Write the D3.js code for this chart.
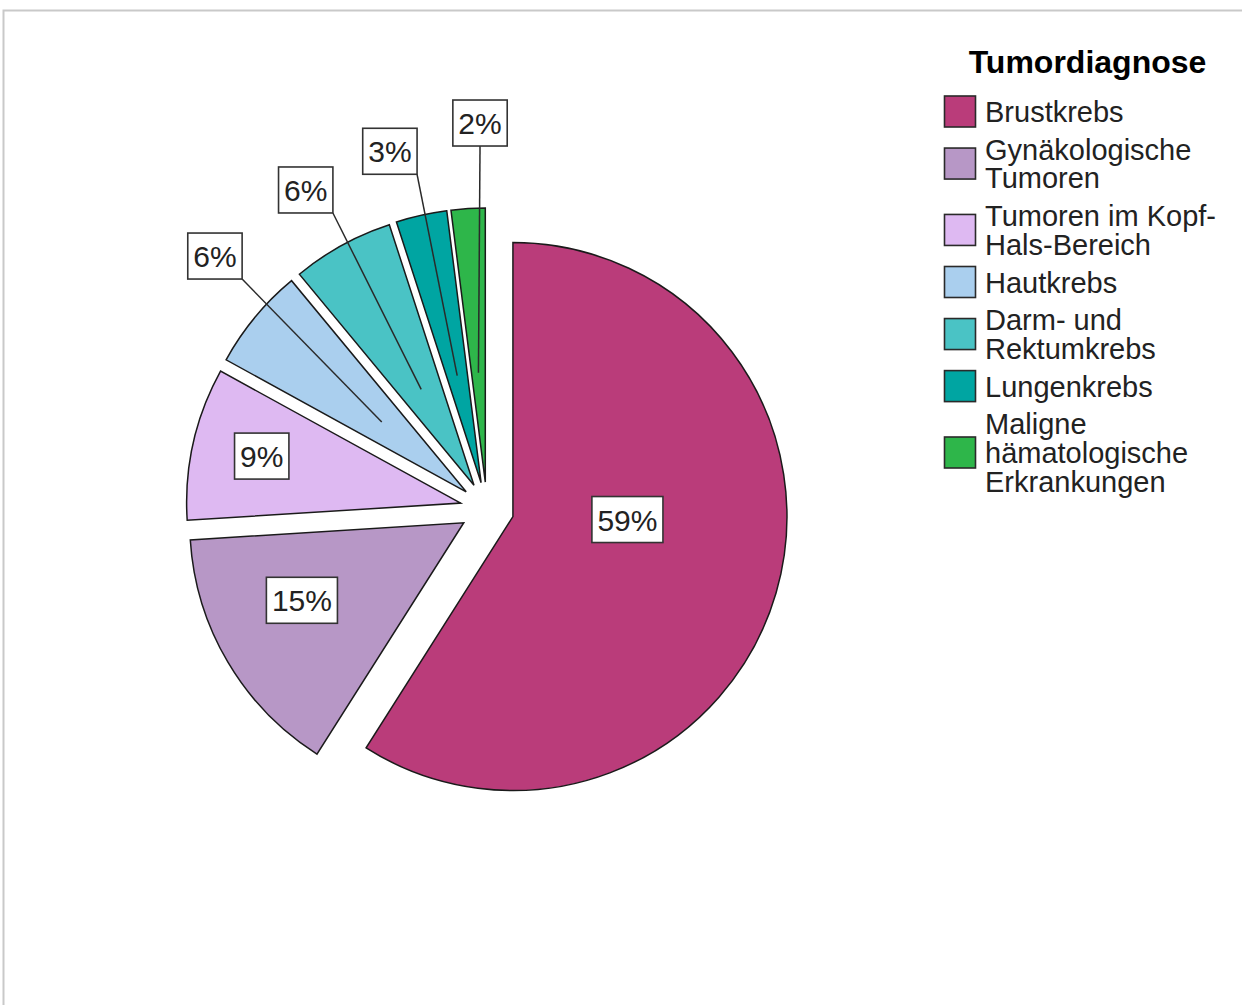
<!DOCTYPE html>
<html>
<head>
<meta charset="utf-8">
<script src="https://cdn.jsdelivr.net/npm/d3@7"></script>
<style>
  html, body { margin: 0; padding: 0; background: #fff; }
  svg { display: block; }
</style>
</head>
<body>
<svg id="chart" width="1242" height="1005"></svg>
<script>
// Diagnosis categories and their share of patients (percent)
const categories = [
  "Brustkrebs",
  "Gynäkologische Tumoren",
  "Tumoren im Kopf-Hals-Bereich",
  "Hautkrebs",
  "Darm- und Rektumkrebs",
  "Lungenkrebs",
  "Maligne hämatologische Erkrankungen"
];
const shares = [59, 15, 9, 6, 6, 3, 2];
const sliceColors = ["#BA3C7A", "#B797C6", "#DEB9F2", "#AACFEE", "#4AC3C5", "#00A5A2", "#2EB64A"];

// Legend wording, wrapped as in the legend box
const legendTitle = "Tumordiagnose";
const legendLines = [
  ["Brustkrebs"],
  ["Gynäkologische", "Tumoren"],
  ["Tumoren im Kopf-", "Hals-Bereich"],
  ["Hautkrebs"],
  ["Darm- und", "Rektumkrebs"],
  ["Lungenkrebs"],
  ["Maligne", "hämatologische", "Erkrankungen"]
];

// Where each percentage label sits: inside the slice (polar from the slice tip)
// or outside with a leader line (polar from the pie centre, box corner at that point)
const labelPlacement = [
  { mode: "inside", angle: 91.5, frac: 0.418 },
  { mode: "inside", angle: 244.4, frac: 0.655 },
  { mode: "inside", angle: 283.3, frac: 0.746 },
  { mode: "outside", angle: 313.2, frac: 1.226, corner: "end" },
  { mode: "outside", angle: 332.5, frac: 1.218, corner: "end" },
  { mode: "outside", angle: 348.2, frac: 1.248, corner: "end" },
  { mode: "outside", angle: 358.9, frac: 1.325, corner: "middle" }
];

const FONT = "'Liberation Sans', Arial, Helvetica, sans-serif";
const svg = d3.select("#chart");

// frame lines along the top and left edge
svg.append("path")
  .attr("d", "M3.5,1005 V10.5 H1242")
  .attr("fill", "none")
  .attr("stroke", "#c9c9c9")
  .attr("stroke-width", 2);

const cx = 487, cy = 509, radius = 274, explode = 27;
const rad = d => d * Math.PI / 180;
const polar = (a, r) => [r * Math.sin(a), -r * Math.cos(a)];

const pie = d3.pie().sort(null).value(d => d.value);
const arcs = pie(categories.map((c, i) => ({ name: c, value: shares[i], color: sliceColors[i], idx: i })));
const arc = d3.arc().innerRadius(0).outerRadius(radius);

const g = svg.append("g").attr("transform", `translate(${cx},${cy})`);

// slices, each pushed out along its mid-angle
arcs.forEach(a => {
  const mid = (a.startAngle + a.endAngle) / 2;
  const [ox, oy] = polar(mid, explode);
  a.tip = [ox, oy];
  a.mid = mid;
  g.append("path")
    .attr("d", arc(a))
    .attr("transform", `translate(${ox},${oy})`)
    .attr("fill", a.data.color)
    .attr("stroke", "#1a1a1a")
    .attr("stroke-width", 1.5)
    .attr("stroke-linejoin", "miter");
});

const fmt = v => `${v}%`;
const labelLayer = g.append("g");
const lineLayer = labelLayer.append("g");
const boxLayer = labelLayer.append("g");

arcs.forEach((a, i) => {
  const p = labelPlacement[i];
  const txt = boxLayer.append("text")
    .attr("font-family", FONT)
    .attr("font-size", 30)
    .attr("fill", "#222")
    .attr("text-anchor", "middle")
    .text(fmt(a.data.value));
  const bb = txt.node().getBBox();
  const w = bb.width + 11, h = 46;
  let bx, by;
  if (p.mode === "inside") {
    const [lx, ly] = polar(rad(p.angle), p.frac * radius);
    bx = a.tip[0] + lx; by = a.tip[1] + ly;
  } else {
    const [ax, ay] = polar(rad(p.angle), p.frac * radius);
    bx = p.corner === "end" ? ax - w / 2 : ax;
    by = ay - h / 2;
    const [ix, iy] = polar(a.mid, 0.4 * radius);
    lineLayer.append("line")
      .attr("x1", a.tip[0] + ix).attr("y1", a.tip[1] + iy)
      .attr("x2", ax).attr("y2", ay)
      .attr("stroke", "#2a2a2a")
      .attr("stroke-width", 1.5);
  }
  boxLayer.insert("rect", () => txt.node())
    .attr("x", bx - w / 2).attr("y", by - h / 2)
    .attr("width", w).attr("height", h)
    .attr("fill", "#fff")
    .attr("stroke", "#333")
    .attr("stroke-width", 1.6);
  txt.attr("x", bx).attr("y", by + 11);
});

// legend
const legend = svg.append("g");
legend.append("text")
  .attr("x", 1087.5).attr("y", 73)
  .attr("text-anchor", "middle")
  .attr("font-family", FONT)
  .attr("font-size", 32)
  .attr("font-weight", "bold")
  .attr("fill", "#000")
  .text(legendTitle);

const lineH = 28.7, itemGap = 9;
let baseline = 122;
legendLines.forEach((lines, i) => {
  const first = baseline;
  lines.forEach((ln, k) => {
    legend.append("text")
      .attr("x", 985).attr("y", baseline + k * lineH)
      .attr("font-family", FONT)
      .attr("font-size", 29)
      .attr("fill", "#222")
      .text(ln);
  });
  const last = baseline + (lines.length - 1) * lineH;
  const mid = (first + last) / 2 - 10.5;
  legend.append("rect")
    .attr("x", 944.5).attr("y", mid - 15.5)
    .attr("width", 31).attr("height", 31)
    .attr("fill", sliceColors[i])
    .attr("stroke", "#2a2a2a")
    .attr("stroke-width", 1.6);
  baseline = last + lineH + itemGap;
});
</script>
</body>
</html>
